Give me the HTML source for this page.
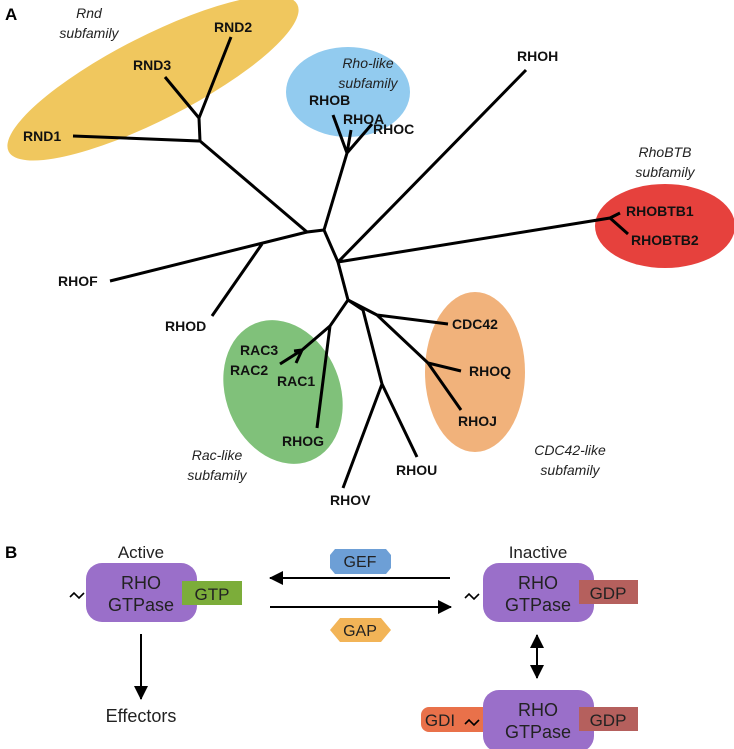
<!DOCTYPE html>
<html><head><meta charset="utf-8"><style>
html,body{margin:0;padding:0;background:#fff;}
svg{display:block;font-family:"Liberation Sans",Arial,sans-serif;}
.l{font-weight:bold;font-size:14px;fill:#111;}
.i{font-style:italic;font-size:14px;fill:#222;}
.t{stroke:#000;stroke-width:3;fill:none;stroke-linecap:butt;}
.b{font-size:18px;fill:#222;text-anchor:middle;}
</style></head><body>
<svg width="734" height="749" viewBox="0 0 734 749">
<defs><marker id="ah" markerWidth="8" markerHeight="8" refX="7" refY="4" orient="auto" markerUnits="userSpaceOnUse"><path d="M0,0 L8,4 L0,8z" fill="#000"/></marker>
<marker id="ah2" markerWidth="14" markerHeight="14" refX="13" refY="7" orient="auto-start-reverse" markerUnits="userSpaceOnUse"><path d="M0,0 L14,7 L0,14z" fill="#000"/></marker></defs>
<!-- ellipses -->
<ellipse cx="153" cy="78" rx="162" ry="42" transform="rotate(-27 153 78)" fill="#f0c75e"/>
<ellipse cx="348" cy="92" rx="62" ry="45" fill="#92cbef"/>
<ellipse cx="665" cy="226" rx="70" ry="42" fill="#e6413d"/>
<ellipse cx="283" cy="392" rx="57" ry="74" transform="rotate(-22 283 392)" fill="#80c17a"/>
<ellipse cx="475" cy="372" rx="50" ry="80" fill="#f1b27b"/>
<!-- tree -->
<g class="t">
<path d="M73,136 L200,141 L199,118 L165,77 M199,118 L231,37 M200,141 L307,232 L324,230 L347,153 L333,115 M347,153 L351,130 M347,153 L372,124"/>
<path d="M307,232 L110,281 M262,244 L212,316"/>
<path d="M324,230 L338,262 L526,70 M338,262 L610,218 L620,213 M610,218 L628,234"/>
<path d="M338,262 L348,300 L330,326 L317,428 M330,326 L302,350 L280,364 M302,350 L296,363 M302,350 L294,351"/>
<path d="M348,300 L363,310 L382,384 L343,488 M382,384 L417,457"/>
<path d="M348,300 L377,315 L448,324 M377,315 L428,363 L461,371 M428,363 L461,410"/>
</g>
<!-- labels -->
<text x="5" y="20" style="font-weight:bold;font-size:17px">A</text>
<text x="89" y="18" class="i" text-anchor="middle">Rnd</text>
<text x="89" y="38" class="i" text-anchor="middle">subfamily</text>
<text x="368" y="68" class="i" text-anchor="middle">Rho-like</text>
<text x="368" y="88" class="i" text-anchor="middle">subfamily</text>
<text x="665" y="157" class="i" text-anchor="middle">RhoBTB</text>
<text x="665" y="177" class="i" text-anchor="middle">subfamily</text>
<text x="217" y="460" class="i" text-anchor="middle">Rac-like</text>
<text x="217" y="480" class="i" text-anchor="middle">subfamily</text>
<text x="570" y="455" class="i" text-anchor="middle">CDC42-like</text>
<text x="570" y="475" class="i" text-anchor="middle">subfamily</text>
<text x="214" y="32" class="l">RND2</text>
<text x="133" y="70" class="l">RND3</text>
<text x="23" y="141" class="l">RND1</text>
<text x="309" y="105" class="l">RHOB</text>
<text x="343" y="124" class="l">RHOA</text>
<text x="373" y="134" class="l">RHOC</text>
<text x="517" y="61" class="l">RHOH</text>
<text x="626" y="216" class="l">RHOBTB1</text>
<text x="631" y="245" class="l">RHOBTB2</text>
<text x="58" y="286" class="l">RHOF</text>
<text x="165" y="331" class="l">RHOD</text>
<text x="240" y="355" class="l">RAC3</text>
<text x="230" y="375" class="l">RAC2</text>
<text x="277" y="386" class="l">RAC1</text>
<text x="282" y="446" class="l">RHOG</text>
<text x="452" y="329" class="l">CDC42</text>
<text x="469" y="376" class="l">RHOQ</text>
<text x="458" y="426" class="l">RHOJ</text>
<text x="396" y="475" class="l">RHOU</text>
<text x="330" y="505" class="l">RHOV</text>
<!-- Part B -->
<text x="5" y="558" style="font-weight:bold;font-size:17px">B</text>
<text x="141" y="558" class="b" style="font-size:17px">Active</text>
<text x="538" y="558" class="b" style="font-size:17px">Inactive</text>
<rect x="86" y="563" width="111" height="59" rx="16" fill="#9a6fc9"/>
<rect x="182" y="581" width="60" height="24" fill="#7cad3a"/>
<text x="141" y="589" class="b">RHO</text>
<text x="141" y="611" class="b">GTPase</text>
<text x="212" y="600" class="b" style="font-size:17px">GTP</text>
<path d="M70,597 l4,-4 l5,5 l5,-5" stroke="#000" stroke-width="1.6" fill="none"/>
<rect x="483" y="563" width="111" height="59" rx="16" fill="#9a6fc9"/>
<rect x="579" y="580" width="59" height="24" fill="#b5605d"/>
<text x="538" y="589" class="b">RHO</text>
<text x="538" y="611" class="b">GTPase</text>
<text x="608" y="599" class="b" style="font-size:17px">GDP</text>
<path d="M465,598 l4,-4 l5,5 l5,-5" stroke="#000" stroke-width="1.6" fill="none"/>
<rect x="421" y="707" width="70" height="25" rx="8" fill="#e9714a"/>
<rect x="483" y="690" width="111" height="62" rx="16" fill="#9a6fc9"/>
<rect x="579" y="707" width="59" height="24" fill="#b5605d"/>
<text x="538" y="716" class="b">RHO</text>
<text x="538" y="738" class="b">GTPase</text>
<text x="608" y="726" class="b" style="font-size:17px">GDP</text>
<text x="440" y="726" class="b" style="font-size:17px">GDI</text>
<path d="M465,724 l4,-4 l5,5 l5,-5" stroke="#000" stroke-width="1.6" fill="none"/>
<line x1="450" y1="578" x2="270" y2="578" stroke="#000" stroke-width="2" marker-end="url(#ah2)"/>
<line x1="270" y1="607" x2="451" y2="607" stroke="#000" stroke-width="2" marker-end="url(#ah2)"/>
<path d="M335,549 L386,549 L391,555 L391,568 L386,574 L335,574 L330,568 L330,555Z" fill="#6d9fd6"/>
<text x="360" y="567" class="b" style="font-size:16px">GEF</text>
<path d="M340,618 L381,618 L391,630 L381,642 L340,642 L330,630Z" fill="#f2b457"/>
<text x="360" y="636" class="b" style="font-size:16px">GAP</text>
<line x1="141" y1="634" x2="141" y2="699" stroke="#000" stroke-width="2" marker-end="url(#ah2)"/>
<text x="141" y="722" class="b">Effectors</text>
<line x1="537" y1="635" x2="537" y2="678" stroke="#000" stroke-width="2" marker-start="url(#ah2)" marker-end="url(#ah2)"/>
</svg>
</body></html>
